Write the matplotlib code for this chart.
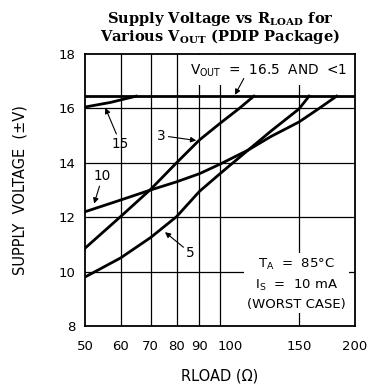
import matplotlib
matplotlib.use("Agg")
import matplotlib.pyplot as plt
from matplotlib.ticker import FixedLocator, NullLocator

plt.rcParams['font.family'] = ['DejaVu Sans']
plt.rcParams['mathtext.fontset'] = 'custom'
plt.rcParams['mathtext.rm'] = 'DejaVu Serif:bold'
plt.rcParams['mathtext.it'] = 'DejaVu Serif:bold'
plt.rcParams['mathtext.bf'] = 'DejaVu Serif:bold'
plt.rcParams['mathtext.sf'] = 'DejaVu Sans'

# Data (R_LOAD in ohms, supply voltage in +/- V)
vout_flat_r = [50, 200]
vout_flat_v = [16.45, 16.45]

v15_r = [50, 57, 65]
v15_v = [16.05, 16.22, 16.45]

v3_r = [50, 60, 70, 80, 90, 100, 110, 119]
v3_v = [10.86, 12.02, 13.02, 14.0, 14.84, 15.45, 15.98, 16.45]

v10_r = [50, 60, 70, 80, 90, 100, 115.6, 130, 150, 165, 182]
v10_v = [12.2, 12.63, 13.0, 13.3, 13.6, 13.95, 14.47, 14.97, 15.5, 15.96, 16.45]

v5_r = [50, 60, 70, 80, 90, 100, 115.6, 130, 150, 158]
v5_v = [9.8, 10.5, 11.25, 12.02, 12.95, 13.6, 14.47, 15.17, 15.98, 16.45]

x_ticks = [50, 60, 70, 80, 90, 100, 150, 200]
x_labels = ['50', '60', '70', '80', '90', '100', '150', '200']
y_ticks = [8, 10, 12, 14, 16, 18]

fig = plt.figure(figsize=(3.70, 3.89), dpi=100)
ax = fig.add_axes([85/370, 1 - 326/389, 270/370, 272/389])

ax.set_xscale('log')
ax.set_xlim(50, 200)
ax.set_ylim(8, 18)
ax.xaxis.set_major_locator(FixedLocator(x_ticks))
ax.xaxis.set_minor_locator(NullLocator())
# the "100" label is shifted right in the original to avoid "90"
ax.set_xticklabels([lab if lab != '100' else '' for lab in x_labels])
ax.yaxis.set_major_locator(FixedLocator(y_ticks))
ax.tick_params(length=0, labelsize=9.5, pad=10)
ax.tick_params(axis='y', pad=7)
ax.annotate('100', xy=(100, 0), xycoords=('data', 'axes fraction'),
            xytext=(7, -10), textcoords='offset points', ha='center', va='top', fontsize=9.5)

for xv in x_ticks[1:-1]:
    ax.axvline(xv, color='black', lw=0.9, zorder=1)
for yv in y_ticks[1:-1]:
    ax.axhline(yv, color='black', lw=0.9, zorder=1)

for s in ax.spines.values():
    s.set_linewidth(1.3)

lw = 2.0
ax.plot(vout_flat_r, vout_flat_v, color='black', lw=lw, zorder=3)
ax.plot(v15_r, v15_v, color='black', lw=lw, zorder=3)
ax.plot(v3_r, v3_v, color='black', lw=lw, zorder=3)
ax.plot(v10_r, v10_v, color='black', lw=lw, zorder=3)
ax.plot(v5_r, v5_v, color='black', lw=lw, zorder=3)

arrow = dict(arrowstyle='-|>', color='black', lw=0.8, mutation_scale=8, shrinkA=0, shrinkB=0)

ax.text(128, 17.4, r'V$_{\mathsf{OUT}}$  =  16.5  AND  <1', fontsize=9.8, ha='center', va='center',
        bbox=dict(facecolor='white', edgecolor='none', pad=5), zorder=2)
ax.annotate('', xy=(108, 16.5), xytext=(113, 17.1), arrowprops=arrow, zorder=4)

ax.annotate('15', xy=(55.5, 16.02), xytext=(60, 14.7), fontsize=9.8, ha='center', va='center',
            arrowprops=arrow, zorder=4)
ax.annotate('3', xy=(88.5, 14.82), xytext=(74, 15.0), fontsize=9.8, ha='center', va='center',
            arrowprops=arrow, zorder=4)
ax.annotate('10', xy=(52.4, 12.5), xytext=(54.7, 13.5), fontsize=9.8, ha='center', va='center',
            arrowprops=arrow, zorder=4)
ax.annotate('5', xy=(75.4, 11.45), xytext=(86, 10.68), fontsize=9.8, ha='center', va='center',
            arrowprops=arrow, zorder=4)

ax.text(148, 9.55, 'T$_{\\mathsf{A}}$  =  85\u00b0C\nI$_{\\mathsf{S}}$  =  10 mA\n(WORST CASE)', fontsize=9.5,
        ha='center', va='center', linespacing=1.5,
        bbox=dict(facecolor='white', edgecolor='none', pad=2), zorder=2)

ax.set_xlabel('RLOAD (\u03a9)', fontsize=10.5, labelpad=11)
ax.set_ylabel('SUPPLY  VOLTAGE  (\u00b1V)', fontsize=10.5, labelpad=22)
ax.set_title('Supply Voltage vs R$_{\\mathrm{LOAD}}$ for\nVarious V$_{\\mathrm{OUT}}$ (PDIP Package)',
             fontsize=10.5, fontweight='bold', family='DejaVu Serif', pad=9, linespacing=0.95)

fig.savefig('out.png', dpi=100)
